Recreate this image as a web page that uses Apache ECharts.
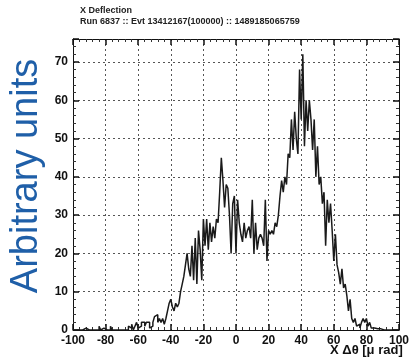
<!DOCTYPE html>
<html>
<head>
<meta charset="utf-8">
<script src="https://cdn.jsdelivr.net/npm/echarts@6/dist/echarts.min.js"></script>
<style>
  html, body { margin: 0; padding: 0; background: #fff; }
  #chart { width: 412px; height: 358px; }
</style>
</head>
<body>
<div id="chart"></div>
<script>
// Histogram of X deflection, 1 µrad bins starting at -100
const binStart = -100;
const binWidth = 1;
const counts = [
  // -100 .. -91
  0, 0, 0, 0, 0.5, 0, 0, 0.5, 0, 0,
  // -90 .. -81
  0, 0, 0, 0, 0.5, 0, 1, 0, 0.5, 1,
  // -80 .. -71
  0, 0.5, 0, 1, 0, 0, 0.5, 0, 0, 0,
  // -70 .. -61
  0, 0, 0.5, 0, 1, 0.5, 1.5, 0, 1, 2,
  // -60 .. -51
  0.5, 1, 2, 2, 1, 2, 2, 0.5, 1, 2,
  // -50 .. -41
  3.5, 4, 2, 3, 2, 3, 1.5, 3, 5, 7,
  // -40 .. -31
  8, 6, 5, 7, 6, 7, 10, 12, 14, 17,
  // -30 .. -21
  20, 16, 14, 22, 13, 24, 12, 26, 21, 13,
  // -20 .. -11
  29, 22, 29, 21, 28, 23, 27, 24, 29, 28,
  // -10 .. -1
  36, 45, 39, 32, 38, 37, 30, 20, 33, 35,
  // 0 .. 9
  20, 34, 28, 25, 23, 28, 24, 26, 27, 24,
  // 10 .. 19
  34, 20, 28, 21, 24, 25, 24, 22, 34, 18,
  // 20 .. 29
  26, 25, 26, 25, 28, 27, 30, 35, 39, 36,
  // 30 .. 39
  40, 38, 46, 45, 55, 47, 57, 50, 46, 68,
  // 40 .. 49
  55, 72, 48, 60, 52, 60, 55, 47, 55, 40,
  // 50 .. 59
  48, 38, 40, 33, 36, 22, 34, 28, 33, 26,
  // 60 .. 69
  18, 25, 17, 15, 12, 16, 11, 12, 9, 5,
  // 70 .. 79
  8, 3, 2, 3, 1, 1.5, 0.5, 2, 3, 2,
  // 80 .. 89
  3, 1, 2, 0.5, 0.5, 0.3, 0.3, 0, 0.3, 0,
  // 90 .. 99
  0, 0, 0, 0, 0, 0, 0, 0, 0, 0
];

const xTicks = [-100, -80, -60, -40, -20, 0, 20, 40, 60, 80, 100];
const yTicks = [0, 10, 20, 30, 40, 50, 60, 70];

const titleLine1 = 'X Deflection';
const titleLine2 = 'Run 6837 :: Evt 13412167(100000) :: 1489185065759';
const xTitle = 'X \u0394\u03b8 [\u03bc rad]';
const yTitle = 'Arbitrary units';

// step outline: each bin's low edge, closed at the upper edge of the last bin
const stepData = counts.map((c, i) => [binStart + i * binWidth, c]);
stepData.push([binStart + counts.length * binWidth, counts[counts.length - 1]]);

const chart = echarts.init(document.getElementById('chart'), null, { renderer: 'canvas' });

const labelFont = {
  color: '#111',
  fontFamily: 'Liberation Sans, Arial, sans-serif',
  fontWeight: 'bold',
  fontSize: 12
};

const grid = { left: 73, right: 6, top: 39, bottom: 28 };

const gridLine = { show: true, lineStyle: { color: '#555', type: [2, 3], width: 1 } };

function frameAxis(position, max, interval, labels) {
  return {
    type: 'value', min: position === 'left' || position === 'right' ? 0 : -100,
    max: max, interval: interval, position: position,
    axisLine: { show: true, onZero: false, lineStyle: { color: '#111', width: 1 } },
    axisTick: { show: true, inside: true, length: 6, lineStyle: { color: '#111', width: 1.5 } },
    minorTick: { show: true, splitNumber: 5, length: 3, lineStyle: { color: '#333' } },
    axisLabel: labels
      ? Object.assign({ margin: position === 'bottom' ? 5 : 5,
          formatter: v => (labels.includes(v) ? String(v) : '') }, labelFont)
      : { show: false },
    splitLine: labels ? gridLine : { show: false }
  };
}

chart.setOption({
  animation: false,
  backgroundColor: '#fff',
  grid: grid,
  graphic: [
    { type: 'text', left: 80, top: 6,
      style: { text: titleLine1, font: 'bold 9px Liberation Sans, Arial, sans-serif', fill: '#222' } },
    { type: 'text', left: 80, top: 17,
      style: { text: titleLine2, font: 'bold 9px Liberation Sans, Arial, sans-serif', fill: '#222' } },
    { type: 'text', left: 330, top: 344,
      style: { text: xTitle, font: 'bold 13px Liberation Sans, Arial, sans-serif', fill: '#111' } },
    { type: 'text', x: 27, y: 176, rotation: Math.PI / 2,
      style: { text: yTitle, font: '38px Liberation Sans, Arial, sans-serif', fill: '#1f5fa8',
               textAlign: 'center', textVerticalAlign: 'middle' } }
  ],
  xAxis: [
    frameAxis('bottom', 100, 20, xTicks),
    frameAxis('top', 100, 20, null)
  ],
  yAxis: [
    frameAxis('left', 76, 10, yTicks),
    frameAxis('right', 76, 10, null)
  ],
  series: [
    {
      type: 'line',
      xAxisIndex: 0,
      yAxisIndex: 0,
      step: 'end',
      data: stepData,
      symbol: 'none',
      lineStyle: { color: '#1a1a1a', width: 1.5 },
      z: 5
    }
  ]
});
</script>
</body>
</html>
